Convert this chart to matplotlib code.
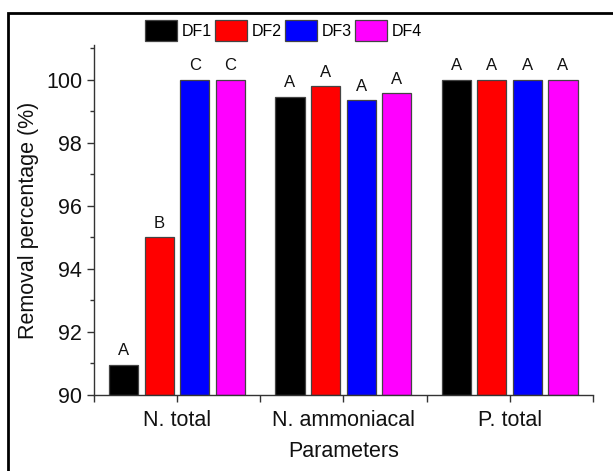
import matplotlib.pyplot as plt
import matplotlib.patches as mpatches
import numpy as np
from matplotlib.ticker import MultipleLocator

plt.rcParams['font.family'] = ['Liberation Sans', 'DejaVu Sans']

# Data
categories = ['N. total', 'N. ammoniacal', 'P. total']
series = ['DF1', 'DF2', 'DF3', 'DF4']
values = {
  'DF1': [90.95, 99.46, 100.0],
  'DF2': [95.0, 99.79, 100.0],
  'DF3': [100.0, 99.34, 100.0],
  'DF4': [100.0, 99.57, 100.0],
}
letters = {
  'DF1': ['A', 'A', 'A'],
  'DF2': ['B', 'A', 'A'],
  'DF3': ['C', 'A', 'A'],
  'DF4': ['C', 'A', 'A'],
}
colors = ['#000000', '#ff0000', '#0000ff', '#ff00ff']

fig = plt.figure(figsize=(6.13, 4.71), dpi=100)
ax = fig.add_axes([0.1533, 0.1614, 0.8137, 0.7431])

x = np.arange(len(categories))
step = 0.214
width = 0.175

for i, name in enumerate(series):
  pos = x + (i - 1.5) * step
  ax.bar(pos, np.array(values[name]) - 90, width, bottom=90,
         color=colors[i], edgecolor='#444444', linewidth=0.9, label=name)
  for px, v, t in zip(pos, values[name], letters[name]):
    ax.annotate(t, (px, v), xytext=(0, 7), textcoords='offset points',
                ha='center', va='baseline', fontsize=12, color='#111111')

ax.set_xlim(-0.5, 2.5)
ax.set_ylim(90, 101.1)
ax.set_xticks(x)
ax.set_xticklabels(categories)
ax.set_xticks([-0.5, 0.5, 1.5, 2.5], minor=True)
ax.yaxis.set_major_locator(MultipleLocator(2))
ax.yaxis.set_minor_locator(MultipleLocator(1))

ax.spines['top'].set_visible(False)
ax.spines['right'].set_visible(False)
for s in ['left', 'bottom']:
  ax.spines[s].set_color('#333333')
  ax.spines[s].set_linewidth(1.0)

ax.tick_params(axis='both', which='major', direction='out', length=5, width=1,
               color='#333333', labelsize=15.5, labelcolor='#111111')
ax.tick_params(axis='both', which='minor', direction='out', length=3, width=1,
               color='#333333')
ax.tick_params(axis='x', which='major', pad=6)
ax.tick_params(axis='x', which='minor', length=5)

ax.set_ylabel('Removal percentage (%)', fontsize=15.5, color='#111111', labelpad=5)
ax.set_xlabel('Parameters', fontsize=15.5, color='#111111', labelpad=7)

handles = [mpatches.Patch(facecolor=c, edgecolor='#444444', linewidth=0.9) for c in colors]
fig.legend(handles, series, loc='center', bbox_to_anchor=(0.4625, 0.935), ncol=4,
           frameon=False, fontsize=11.5, handlelength=2.0, handleheight=1.6,
           handletextpad=0.25, columnspacing=0.25, borderaxespad=0)

# Outer frame around the figure
fig.patches.append(mpatches.Rectangle((8 / 613, -0.01), 1.0, 1 - 13 / 471 + 0.01,
                                      transform=fig.transFigure, fill=False,
                                      edgecolor='black', linewidth=2))

fig.savefig('out.png', dpi=100)
